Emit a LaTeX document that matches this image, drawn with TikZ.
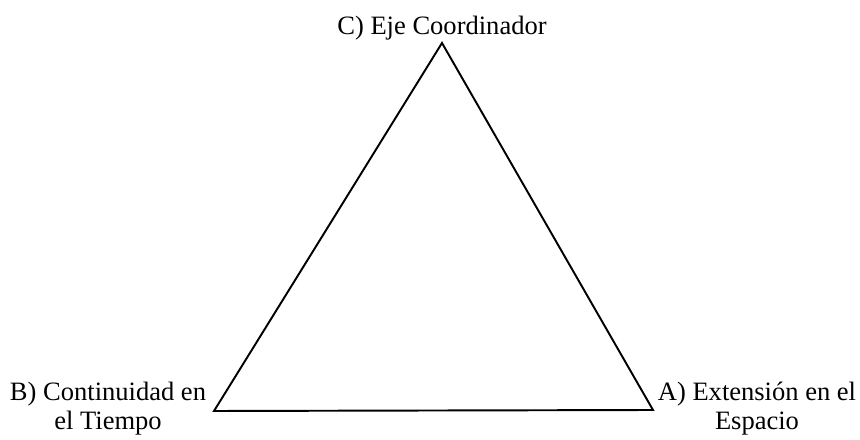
\documentclass[tikz,border=0pt]{standalone}
\usepackage{fontspec}
\setmainfont{Liberation Serif}
\usepackage{tikz}
\usetikzlibrary{positioning}

\begin{document}
\begin{tikzpicture}[
  x=0.02cm, y=0.02cm,
  side/.style={line width=1.1pt, draw=black, line join=miter},
  vlabel/.style={inner sep=0pt, align=center, font=\fontsize{15.1}{17}\selectfont}
]
  \useasboundingbox (0, 0) rectangle (860, 440);

  % Corners
  \coordinate (apexC) at (442, 397);
  \coordinate (cornerB) at (214, 29);
  \coordinate (cornerA) at (653, 30);

  % Triangle
  \draw[side] (apexC) -- (cornerB) -- (cornerA) -- cycle;

  % Labels
  \node[vlabel, anchor=base] (labC) at (442, 405) {C) Eje Coordinador};
  \node[vlabel, anchor=base] (labB) at (108, 10) {B) Continuidad en\\el Tiempo};
  \node[vlabel, anchor=base] (labA) at (757, 10) {A) Extensión en el\\Espacio};
\end{tikzpicture}
\end{document}
